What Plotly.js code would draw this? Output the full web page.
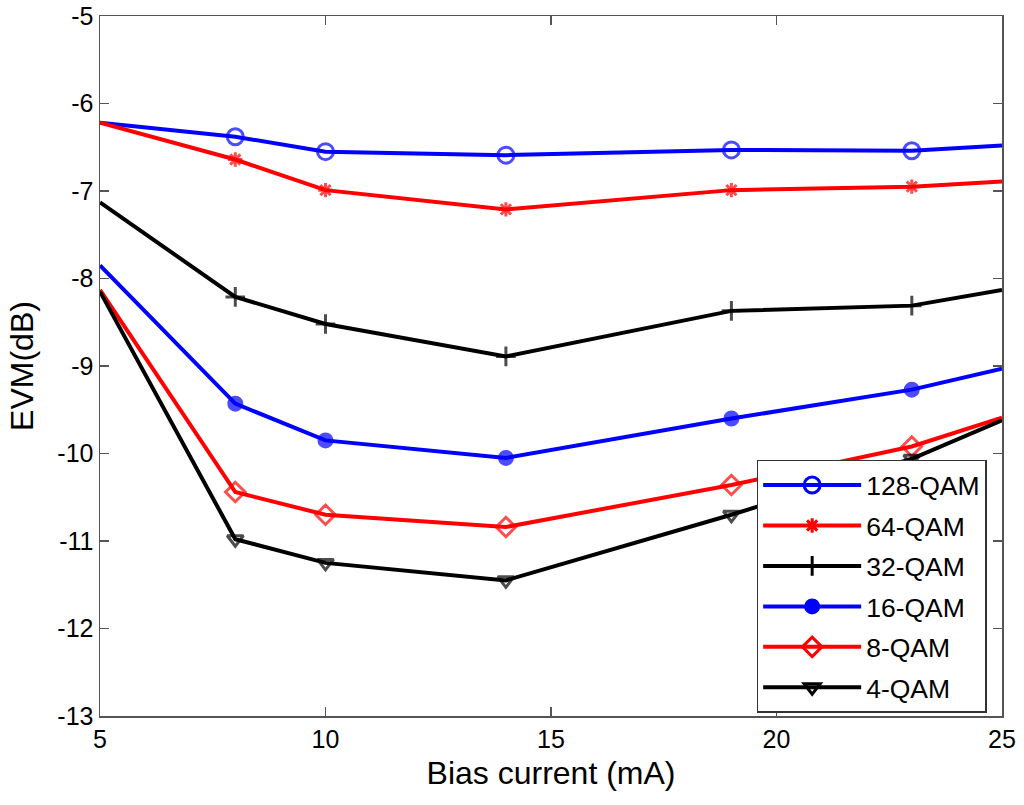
<!DOCTYPE html>
<html>
<head>
<meta charset="utf-8">
<script src="https://cdn.plot.ly/plotly-3.0.1.min.js"></script>
<style>
  html, body { margin: 0; padding: 0; background: #fff; }
  #chart { width: 1024px; height: 805px; }
</style>
</head>
<body>
<div id="chart"></div>
<script>
// bias current (mA)
let bias = [5, 8, 10, 14, 19, 23, 25];

// EVM (dB) per modulation format
let qam128 = [-6.22, -6.38, -6.55, -6.59, -6.53, -6.54, -6.48];
let qam64  = [-6.22, -6.64, -6.99, -7.21, -6.99, -6.95, -6.89];
let qam32  = [-7.13, -8.21, -8.52, -8.89, -8.37, -8.31, -8.13];
let qam16  = [-7.85, -9.43, -9.85, -10.05, -9.60, -9.27, -9.03];
let qam8   = [-8.13, -10.44, -10.70, -10.84, -10.36, -9.92, -9.59];
let qam4   = [-8.15, -10.98, -11.25, -11.45, -10.70, -10.06, -9.62];

// tick labels (plain hyphen, as in the original figure)
let xTicks = [5, 10, 15, 20, 25];
let xTickText = ['5', '10', '15', '20', '25'];
let yTicks = [-13, -12, -11, -10, -9, -8, -7, -6, -5];
let yTickText = ['-13', '-12', '-11', '-10', '-9', '-8', '-7', '-6', '-5'];

let names = ['128-QAM', '64-QAM', '32-QAM', '16-QAM', '8-QAM', '4-QAM'];
let series = [qam128, qam64, qam32, qam16, qam8, qam4];
let colors = ['#0000ff', '#ff0000', '#000000', '#0000ff', '#ff0000', '#000000'];
let symbols = ['circle-open', 'asterisk-open', 'cross-thin-open', 'circle', 'diamond-open', 'triangle-down-open'];
let sizes = [16, 12, 14, 13, 15, 14];

let data = [];

for (let i = 0; i < series.length; ++i) {
    // no markers on the end points (x = 5 and 25)
    let ms = bias.map(function (b, k) {
        return (k === 0 || k === bias.length - 1) ? 0 : sizes[i];
    });
    data.push({
        x: bias,
        y: series[i],
        mode: 'lines+markers',
        name: names[i],
        showlegend: false,
        line: { color: colors[i], width: 4 },
        marker: { symbol: symbols[i], size: ms, color: colors[i], line: { color: colors[i], width: 3 } }
    });
}

// legend entries
for (let i = 0; i < series.length; ++i) {
    data.push({
        x: [null],
        y: [null],
        mode: 'lines+markers',
        name: names[i],
        legendgroup: 'g' + i,
        line: { color: colors[i], width: 4 },
        marker: { symbol: symbols[i], size: sizes[i], color: colors[i], line: { color: colors[i], width: 3 } }
    });
}

let axisStyle = {
    showgrid: false,
    zeroline: false,
    showline: true,
    linecolor: '#555',
    linewidth: 1.5,
    mirror: 'ticks',
    ticks: 'inside',
    ticklen: 9,
    tickwidth: 1.5,
    tickcolor: '#555',
    tickmode: 'array',
    tickfont: { size: 25, color: '#000' }
};

let layout = {
    width: 1024,
    height: 805,
    margin: { l: 100, r: 22, t: 16, b: 89 },
    paper_bgcolor: '#fff',
    plot_bgcolor: '#fff',
    font: { family: 'Liberation Sans, Arial, sans-serif', color: '#000' },
    xaxis: Object.assign({}, axisStyle, {
        range: [5, 25],
        tickvals: xTicks,
        ticktext: xTickText,
        title: { text: 'Bias current (mA)', font: { size: 32 }, standoff: 10 }
    }),
    yaxis: Object.assign({}, axisStyle, {
        range: [-13, -5],
        tickvals: yTicks,
        ticktext: yTickText,
        title: { text: 'EVM(dB)', font: { size: 32 }, standoff: 14 }
    }),
    legend: {
        x: 0.728,
        y: 0.366,
        xanchor: 'left',
        yanchor: 'top',
        bgcolor: '#fff',
        bordercolor: '#333',
        borderwidth: 1.5,
        font: { size: 26.5 },
        traceorder: 'grouped',
        tracegroupgap: 3,
        itemwidth: 98
    }
};

Plotly.newPlot('chart', data, layout, { displayModeBar: false, staticPlot: true });
</script>
</body>
</html>
